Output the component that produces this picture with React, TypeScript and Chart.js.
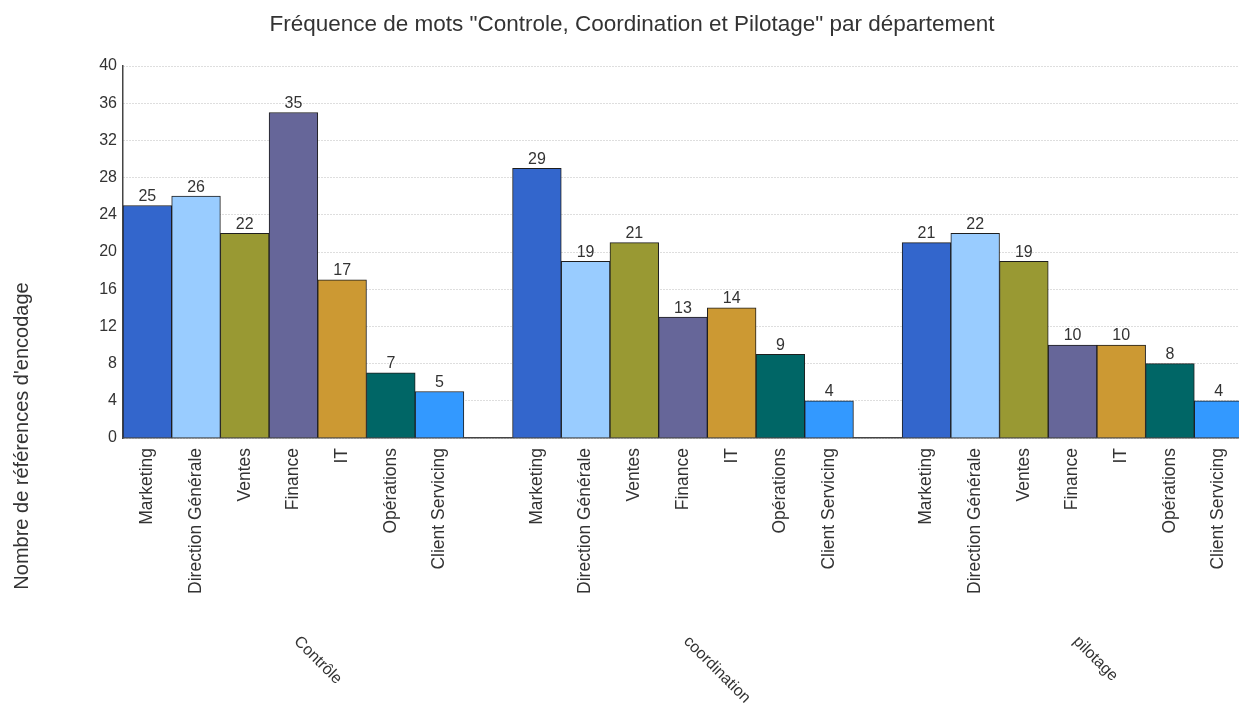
import React, { useEffect, useRef } from "react";
import { Chart, registerables } from "chart.js";

Chart.register(...registerables);

// ---------- data ----------
const chartTitle = 'Fréquence de mots "Controle, Coordination et Pilotage" par département';
const yAxisTitle = "Nombre de références d'encodage";
const groups = ["Contrôle", "coordination", "pilotage"];
const departments = [
  "Marketing",
  "Direction Générale",
  "Ventes",
  "Finance",
  "IT",
  "Opérations",
  "Client Servicing",
];
const controleValues = [25, 26, 22, 35, 17, 7, 5];
const coordinationValues = [29, 19, 21, 13, 14, 9, 4];
const pilotageValues = [21, 22, 19, 10, 10, 8, 4];
const departmentColors = [
  "#3366CC",
  "#99CCFF",
  "#999933",
  "#666699",
  "#CC9933",
  "#006666",
  "#3399FF",
];
const yMin = 0;
const yMax = 40;
const yStep = 4;

const groupValues = [controleValues, coordinationValues, pilotageValues];

// flattened (one empty slot between groups)
const labels: string[] = [];
const values: (number | null)[] = [];
const colors: string[] = [];
const groupOfIndex: number[] = [];
groupValues.forEach((vals, g) => {
  if (g > 0) {
    labels.push("");
    values.push(null);
    colors.push("transparent");
    groupOfIndex.push(-1);
  }
  vals.forEach((v, i) => {
    labels.push(departments[i]);
    values.push(v);
    colors.push(departmentColors[i]);
    groupOfIndex.push(g);
  });
});

const FONT = "'Liberation Sans', Arial, Helvetica, sans-serif";
const TEXT = "#333333";

const W = 1264;
const H = 710;
const PLOT_LEFT = 123;
const PLOT_BOTTOM = 438;

const decorPlugin = {
  id: "decor",
  afterDatasetsDraw(chart: any) {
    const ctx = chart.ctx as CanvasRenderingContext2D;
    const meta = chart.getDatasetMeta(0);
    ctx.save();
    ctx.font = `16px ${FONT}`;
    ctx.fillStyle = TEXT;
    ctx.textAlign = "center";
    ctx.textBaseline = "bottom";
    meta.data.forEach((el: any, i: number) => {
      const v = values[i];
      if (v === null || v === undefined) return;
      ctx.fillText(String(v), el.x, el.y - 1);
    });
    ctx.restore();
  },
  afterDraw(chart: any) {
    const ctx = chart.ctx as CanvasRenderingContext2D;
    const xScale = chart.scales.x;
    ctx.save();
    // title
    ctx.font = `22.5px ${FONT}`;
    ctx.fillStyle = TEXT;
    ctx.textAlign = "center";
    ctx.textBaseline = "middle";
    ctx.fillText(chartTitle, 632, 25);

    // y axis title
    ctx.save();
    ctx.translate(22, 436);
    ctx.rotate(-Math.PI / 2);
    ctx.font = `20px ${FONT}`;
    ctx.textAlign = "center";
    ctx.textBaseline = "middle";
    ctx.fillText(yAxisTitle, 0, 0);
    ctx.restore();

    // group labels
    ctx.font = `16px ${FONT}`;
    groups.forEach((g, gi) => {
      const idx = groupOfIndex
        .map((v, i) => (v === gi ? i : -1))
        .filter((i) => i >= 0);
      const x0 = xScale.getPixelForValue(idx[0]);
      const x1 = xScale.getPixelForValue(idx[idx.length - 1]);
      const cx = (x0 + x1) / 2;
      ctx.save();
      ctx.translate(cx + 3, 639);
      ctx.rotate(Math.PI / 4);
      ctx.textAlign = "left";
      ctx.textBaseline = "middle";
      ctx.fillText(g, 0, 0);
      ctx.restore();
    });
    ctx.restore();
  },
};

export default function App() {
  const canvasRef = useRef<HTMLCanvasElement | null>(null);

  useEffect(() => {
    if (!canvasRef.current) return;
    const chart = new Chart(canvasRef.current, {
      type: "bar",
      data: {
        labels,
        datasets: [
          {
            data: values,
            backgroundColor: colors,
            borderColor: "#1e1e1e",
            borderWidth: 1,
            categoryPercentage: 1,
            barPercentage: 1,
          },
        ],
      },
      options: {
        responsive: false,
        devicePixelRatio: 1,
        animation: false,
        layout: { padding: { top: 66, right: W - 1243, left: 0, bottom: 0 } },
        plugins: {
          legend: { display: false },
          title: { display: false },
          tooltip: { enabled: false },
        },
        scales: {
          x: {
            type: "category",
            grid: { display: false },
            border: { display: true, color: "#444444", width: 1.5 },
            ticks: {
              autoSkip: false,
              maxRotation: 90,
              minRotation: 90,
              padding: 2,
              color: TEXT,
              font: { family: FONT, size: 17.5 },
            },
            afterFit(scale: any) {
              scale.height = H - PLOT_BOTTOM;
            },
          },
          y: {
            min: yMin,
            max: yMax,
            ticks: {
              stepSize: yStep,
              padding: 6,
              color: TEXT,
              font: { family: FONT, size: 16 },
            },
            grid: { color: "#bdbdbd", lineWidth: 1, drawTicks: false },
            border: { display: true, color: "#444444", width: 1.5, dash: [1, 2] },
            afterFit(scale: any) {
              scale.width = PLOT_LEFT;
            },
          },
        },
      },
      plugins: [decorPlugin],
    });
    return () => chart.destroy();
  }, []);

  return (
    <div
      style={{
        position: "fixed",
        left: 0,
        top: 0,
        width: 1239,
        height: 710,
        overflow: "hidden",
        background: "#ffffff",
      }}
    >
      <canvas
        ref={canvasRef}
        width={W}
        height={H}
        style={{ display: "block", width: W, height: H }}
      />
    </div>
  );
}
